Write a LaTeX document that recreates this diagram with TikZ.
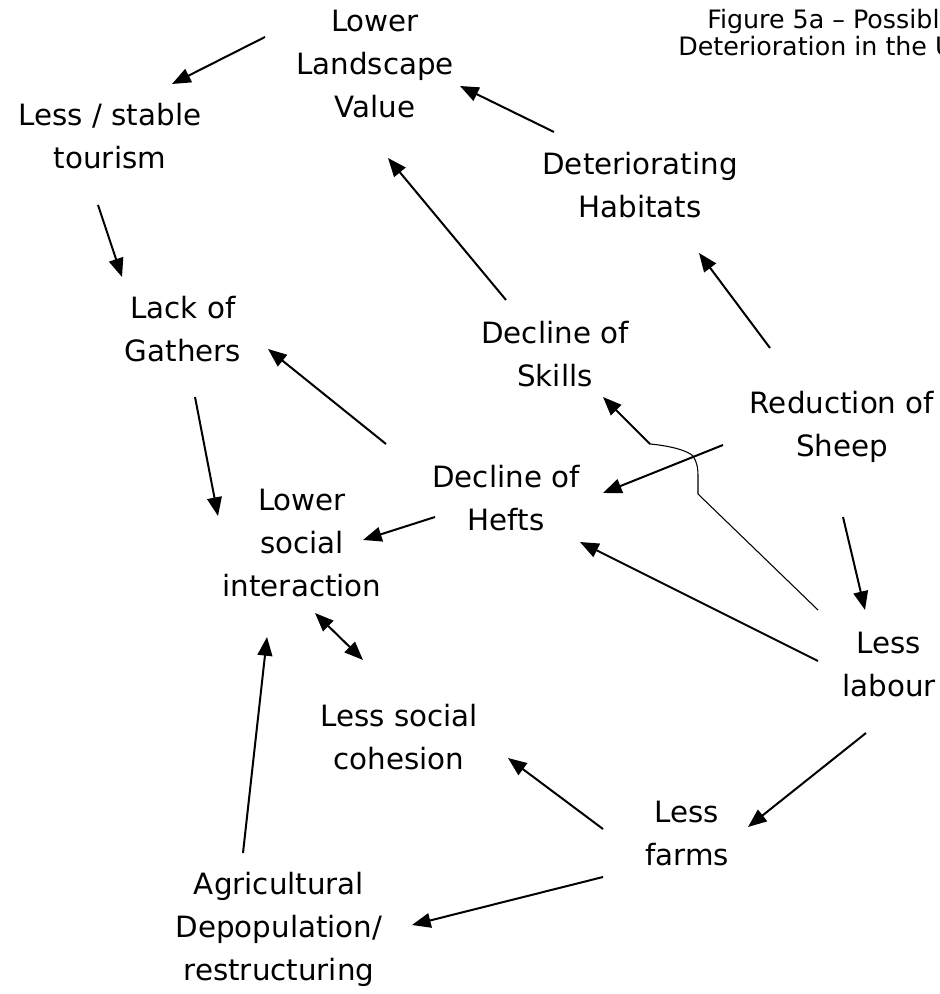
\documentclass[tikz,border=0pt]{standalone}
\usepackage{fontspec}
\setmainfont{DejaVu Sans}
\usetikzlibrary{arrows.meta,calc}
\tikzset{
  lbl/.style={align=center, inner sep=0pt,
    font=\fontsize{22}{32.25}\selectfont,
    execute at begin node=\strut, execute at end node=\strut},
  ttl/.style={inner sep=0pt, anchor=base west, font=\fontsize{19}{20.25}\selectfont},
  tip/.style={-{Triangle[length=14pt,width=11pt]}},
  arr/.style={line width=1.5pt, tip},
  darr/.style={line width=1.5pt, {Triangle[length=14pt,width=11pt]}-{Triangle[length=14pt,width=11pt]}},
  hairline/.style={line width=0.8pt}
}
\begin{document}
\begin{tikzpicture}[x=0.75pt,y=-0.75pt]
  \useasboundingbox (0,0) rectangle (939,994);
  \fill[white] (0,0) rectangle (939,994);
  \clip (0,0) rectangle (939,994);

  % heading, running off the right edge
  \node[ttl] (title1) at (707,29) {Figure 5a – Possible};
  \node[ttl] (title2) at (678,56) {Deterioration in the U};

  % causes and effects
  \node[lbl] (LLV)   at (375,70)  {Lower\\Landscape\\Value};
  \node[lbl] (TOUR)  at (110,142) {Less / stable\\tourism};
  \node[lbl] (HAB)   at (640,191) {Deteriorating\\Habitats};
  \node[lbl] (GATH)  at (183,335) {Lack of\\Gathers};
  \node[lbl] (SKILL) at (555,360) {Decline of\\Skills};
  \node[lbl] (SHEEP) at (842,430) {Reduction of\\Sheep};
  \node[lbl] (HEFT)  at (506,504) {Decline of\\Hefts};
  \node[lbl] (LSI)   at (302,549) {Lower\\social\\interaction};
  \node[lbl] (LAB)   at (889,671) {Less\\labour};
  \node[lbl] (COH)   at (399,743) {Less social\\cohesion};
  \node[lbl] (FARM)  at (687,840) {Less\\farms};
  \node[lbl] (AGR)   at (279,933) {Agricultural\\Depopulation/\\restructuring};

  % links
  \draw[arr] ($(LLV)+(-110,-33)$) -- ($(TOUR)+(62,-58)$);
  \draw[arr] ($(HAB)+(-86,-59)$) -- ($(LLV)+(85,16)$);
  \draw[arr] ($(SKILL)+(-49,-60)$) -- ($(LLV)+(13,88)$);
  \draw[arr] ($(TOUR)+(-12,63)$) -- ($(GATH)+(-61,-58)$);
  \draw[arr] ($(SHEEP)+(-72,-82)$) -- ($(HAB)+(59,62)$);
  \draw[arr] ($(HEFT)+(-120,-60)$) -- ($(GATH)+(85,14)$);
  \draw[arr] ($(GATH)+(12,62)$) -- ($(LSI)+(-84,-33)$);
  \draw[arr] ($(SHEEP)+(-119,15)$) -- ($(HEFT)+(97,-11)$);

  % labour to skills, hopping over the sheep-to-hefts link
  \coordinate (k1) at (698,494);
  \coordinate (k2) at (698,477);
  \coordinate (k3) at (693,456);
  \coordinate (k4) at (650,444);
  \draw[hairline] ($(LAB)+(-71,-61)$) -- (k1) -- (k2)
    .. controls (698,468) and (697,462) .. (k3)
    .. controls (688,451) and (672,446) .. (k4);
  \draw[arr] (k4) -- ($(SKILL)+(48,37)$);

  \draw[arr] ($(LAB)+(-71,-10)$) -- ($(HEFT)+(74,38)$);
  \draw[arr] ($(HEFT)+(-71,13)$) -- ($(LSI)+(61,-9)$);
  \draw[darr] ($(LSI)+(13,64)$) -- ($(COH)+(-36,-83)$);
  \draw[arr] ($(SHEEP)+(1,87)$) -- ($(LAB)+(-24,-61)$);
  \draw[arr] ($(LAB)+(-23,62)$) -- ($(FARM)+(61,-13)$);
  \draw[arr] ($(FARM)+(-84,-11)$) -- ($(COH)+(109,15)$);
  \draw[arr] ($(FARM)+(-84,37)$) -- ($(AGR)+(133,-8)$);
  \draw[arr] ($(AGR)+(-36,-80)$) -- ($(LSI)+(-35,88)$);
\end{tikzpicture}
\end{document}
